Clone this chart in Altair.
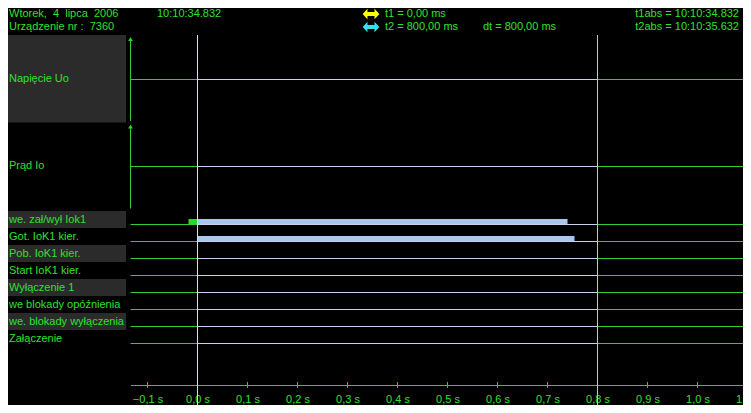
import altair as alt
import pandas as pd

# ---------------- data ----------------
analog_names = ["Napięcie Uo", "Prąd Io"]
digital_names = [
    "we. zał/wył Iok1",
    "Got. IoK1 kier.",
    "Pob. IoK1 kier.",
    "Start IoK1 kier.",
    "Wyłączenie 1",
    "we blokady opóźnienia",
    "we. blokady wyłączenia",
    "Załączenie",
]
# high-state intervals of the binary channels (seconds); None = stays low
digital_on = [-0.018, 0.0, None, None, None, None, None, None]
digital_off = [0.74, 0.754, None, None, None, None, None, None]

tick_values = [-0.1, 0.0, 0.1, 0.2, 0.3, 0.4, 0.5, 0.6, 0.7, 0.8, 0.9, 1.0, 1.1]
cursor_t1 = 0.0
cursor_t2 = 0.8

hdr_date = "Wtorek,\u00a0 4\u00a0 lipca\u00a0 2006"
hdr_dev = "Urządzenie nr :\u00a0 7360"
hdr_time = "10:10:34.832"
hdr_t1 = "t1 = 0,00 ms"
hdr_t2 = "t2 = 800,00 ms"
hdr_dt = "dt = 800,00 ms"
hdr_t1abs = "t1abs = 10:10:34.832"
hdr_t2abs = "t2abs = 10:10:35.632"

# ---------------- layout / style ----------------
W, H = 735, 397
M = 8  # page margin: reference pixel r -> chart pixel r - 8
FONT = "Liberation Sans"
GREEN_TXT = "#2fe02f"
GREEN_LINE = "#33cc33"
LAV = "#c8d0f0"
BAR_BLUE = "#a9c7ee"
PANEL = "#2b2b2b"
YELLOW = "#ffff00"
CYAN = "#33e0f0"
CUR2 = "#b8c4e8"


def cx(r):
    return r - M


def cy(r):
    return r - M


X0 = cx(197) + 0.5   # chart pixel of t = 0
PPS = 500.0          # pixels per second
X_LEFT, X_RIGHT = cx(130) + 0.5, float(cx(751))
T_LEFT = (X_LEFT - X0) / PPS
T_RIGHT = (X_RIGHT - X0) / PPS

xs = alt.Scale(domain=[T_LEFT, T_RIGHT], range=[X_LEFT, X_RIGHT], nice=False, zero=False)
ys = alt.Scale(domain=[0, H], range=[0, H], nice=False, zero=False)

AXIS = alt.Axis(
    values=tick_values, offset=cy(385) - H, ticks=False, tickSize=0, grid=False,
    domain=True, domainColor=GREEN_LINE, domainWidth=1,
    labelColor=GREEN_TXT, labelFont=FONT, labelFontSize=11, labelPadding=8,
    labelFlush=False, labelOverlap=False, title=None,
    labelExpr="replace(format(datum.value, '.1f'), '.', ',') + ' s'",
)


def X(field):
    return alt.X(field, type="quantitative", scale=xs, axis=AXIS)


def Y(field):
    return alt.Y(field, type="quantitative", scale=ys, axis=None)


# analog panels (ref px): top 35, height 87.5
analog_top = [35 + 87.5 * i for i in range(len(analog_names))]
analog_base = [round(t + 44) for t in analog_top]
# digital rows: band top 211 + 17k, baseline 224 + 17k
dig_top = [211 + 17 * k for k in range(len(digital_names))]
dig_base = [224 + 17 * k for k in range(len(digital_names))]

# label panels
panels = []
for i, t in enumerate(analog_top):
    if i % 2 == 0:
        panels.append({"y": cy(t), "y2": cy(t + 87.5), "fill": PANEL})
for k, t in enumerate(dig_top):
    if k % 2 == 0:
        panels.append({"y": cy(t), "y2": cy(t + 17), "fill": PANEL})
panels_df = pd.DataFrame(panels)

# labels
labels = []
for name, b in zip(analog_names, analog_base):
    labels.append({"name": name, "y": cy(b)})
for name, t in zip(digital_names, dig_top):
    labels.append({"name": name, "y": cy(t + 8.5)})
labels_df = pd.DataFrame(labels)


def split(a, b):
    """split an interval at the cursors: flag pieces inside [t1, t2]"""
    pts = sorted(set([a, b] + [c for c in (cursor_t1, cursor_t2) if a < c < b]))
    out = []
    for s, e in zip(pts[:-1], pts[1:]):
        inside = (s >= cursor_t1) and (e <= cursor_t2)
        out.append((s, e, inside))
    return out


# base lines
lines = []
for b in analog_base + dig_base:
    yb = cy(b) + 0.5
    for s, e, inside in split(T_LEFT, T_RIGHT):
        lines.append({"t": s, "t_end": e, "y": yb, "col": LAV if inside else GREEN_LINE})
lines_df = pd.DataFrame(lines)

# high-state bars
bars = []
for on, off, b in zip(digital_on, digital_off, dig_base):
    if on is None:
        continue
    for s, e, inside in split(on, off):
        bars.append({"t": s, "t_end": e, "y": cy(b) - 5, "y2": cy(b),
                     "col": BAR_BLUE if inside else "#22dd22"})
bars_df = pd.DataFrame(bars)

# analog y-axes (arrows)
arrows_df = pd.DataFrame({
    "t": [T_LEFT] * len(analog_top),
    "y": [cy(t + 4) for t in analog_top],
    "y2": [cy(t + 86) for t in analog_top],
})

ticks_df = pd.DataFrame({"tick": tick_values, "y": [cy(382)] * len(tick_values),
                         "y2": [cy(388)] * len(tick_values)})

# ---------------- layers ----------------
panel_layer = alt.Chart(panels_df).mark_rect().encode(
    x=alt.value(0), x2=alt.value(cx(126)), y=Y("y"), y2="y2",
    color=alt.Color("fill:N", scale=None))

label_layer = alt.Chart(labels_df).mark_text(
    align="left", baseline="middle", font=FONT, fontSize=11, color=GREEN_TXT
).encode(x=alt.value(1), y=Y("y"), text="name:N")

line_layer = alt.Chart(lines_df).mark_rule(strokeWidth=1).encode(
    x=X("t"), x2="t_end", y=Y("y"), color=alt.Color("col:N", scale=None))

bar_layer = alt.Chart(bars_df).mark_rect().encode(
    x=X("t"), x2="t_end", y=Y("y"), y2="y2", color=alt.Color("col:N", scale=None))

arrow_line = alt.Chart(arrows_df).mark_rule(strokeWidth=1, color=GREEN_LINE).encode(
    x=X("t"), y=Y("y"), y2="y2")
arrow_head = alt.Chart(arrows_df).mark_point(
    shape="triangle-up", filled=True, size=22, opacity=1, color=GREEN_LINE
).encode(x=X("t"), y=Y("y"))

tick_layer = alt.Chart(ticks_df).mark_rule(strokeWidth=1, color=GREEN_LINE).encode(
    x=X("tick"), y=Y("y"), y2="y2")


def cursor(t, color):
    df = pd.DataFrame({"t": [t], "y": [cy(35)], "y2": [H]})
    return alt.Chart(df).mark_rule(strokeWidth=1, color=color, opacity=1).encode(
        x=X("t"), y=Y("y"), y2="y2")


one = pd.DataFrame({"a": [0]})
HDR_Y1, HDR_Y2 = 6, 19   # header rows (chart px), nudged down to stay inside the page


def hdr(text, x, y, align="left"):
    return alt.Chart(one).mark_text(
        text=text, align=align, baseline="middle", font=FONT, fontSize=11, color=GREEN_TXT
    ).encode(x=alt.value(x), y=alt.value(y))


ARROW = ("M-1,0L-0.42,-0.62L-0.42,-0.24L0.42,-0.24L0.42,-0.62L1,0"
         "L0.42,0.62L0.42,0.24L-0.42,0.24L-0.42,0.62Z")


def dbl_arrow(color, y):
    return alt.Chart(one).mark_point(
        shape=ARROW, filled=True, size=280, opacity=1, color=color
    ).encode(x=alt.value(cx(371)), y=alt.value(y))


headers = [
    hdr(hdr_date, 1, HDR_Y1), hdr(hdr_dev, 1, HDR_Y2), hdr(hdr_time, cx(157), HDR_Y1),
    hdr(hdr_t1, cx(385), HDR_Y1), hdr(hdr_t2, cx(385), HDR_Y2), hdr(hdr_dt, cx(483), HDR_Y2),
    hdr(hdr_t1abs, cx(739), HDR_Y1, "right"), hdr(hdr_t2abs, cx(739), HDR_Y2, "right"),
    dbl_arrow(YELLOW, HDR_Y1), dbl_arrow(CYAN, HDR_Y2),
]

chart = alt.layer(
    tick_layer, panel_layer, label_layer, line_layer, bar_layer,
    arrow_line, arrow_head, cursor(cursor_t1, YELLOW), cursor(cursor_t2, CUR2), *headers
).properties(
    width=W, height=H, padding=0, background="#000000",
    autosize=alt.AutoSizeParams(type="none"),
).configure_view(stroke=None)

chart.save("out.html", embed_options={"renderer": "svg", "actions": False})
